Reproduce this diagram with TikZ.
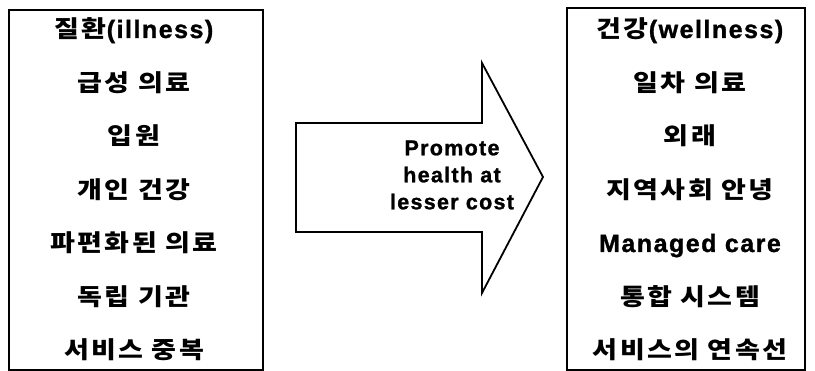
\documentclass[tikz,border=0pt]{standalone}
\usepackage{fontspec}
\setmainfont{Liberation Sans}[LetterSpace=6,FakeBold=1.2]
\newfontfamily\kr{Noto Sans CJK KR}[FakeStretch=1.15,LetterSpace=10]

\tikzset{
  frame/.style={line width=1.8pt},
  item/.style={font=\fontsize{25}{28}\selectfont\bfseries, text height=18pt, text depth=4pt, inner sep=0pt},
  label/.style={font=\fontsize{21.5}{27}\selectfont\bfseries, align=center, inner sep=0pt}
}
\newcommand{\hg}[1]{{\kr\fontsize{23.5}{28}\selectfont #1}}

\begin{document}
\begin{tikzpicture}[x=1pt,y=-1pt]
        \useasboundingbox (0,0) rectangle (815,371);
        % two boxes
        \draw[frame] (9,10) rectangle (263,370);
        \draw[frame] (567,8) rectangle (805,370);
        % big arrow
        \draw[frame,line join=miter] (296,123) -- (482,123) -- (482,63) -- (543,177) -- (482,293) -- (482,232) -- (296,232) -- cycle;
        \node[label] (promote) at (452,175) {Promote\\health at\\lesser cost};
        % left column
        \node[item] (ill) at (134,31) {\hg{질환}(illness)};
        \node[item] (acute) at (134,84.5) {\hg{급성 의료}};
        \node[item] (inpat) at (134,138) {\hg{입원}};
        \node[item] (indiv) at (134,191.5) {\hg{개인 건강}};
        \node[item] (frag) at (134,245) {\hg{파편화된 의료}};
        \node[item] (indep) at (134,298.5) {\hg{독립 기관}};
        \node[item] (dup) at (134,352) {\hg{서비스 중복}};
        % right column
        \node[item] (well) at (690,31) {\hg{건강}(wellness)};
        \node[item] (prim) at (690,84.5) {\hg{일차 의료}};
        \node[item] (outpat) at (690,138) {\hg{외래}};
        \node[item] (comm) at (690,191.5) {\hg{지역사회 안녕}};
        \node[item] (manag) at (690,245) {Managed care};
        \node[item] (integ) at (690,298.5) {\hg{통합 시스템}};
        \node[item] (cont) at (690,352) {\hg{서비스의 연속선}};
    \end{tikzpicture}
\end{document}
